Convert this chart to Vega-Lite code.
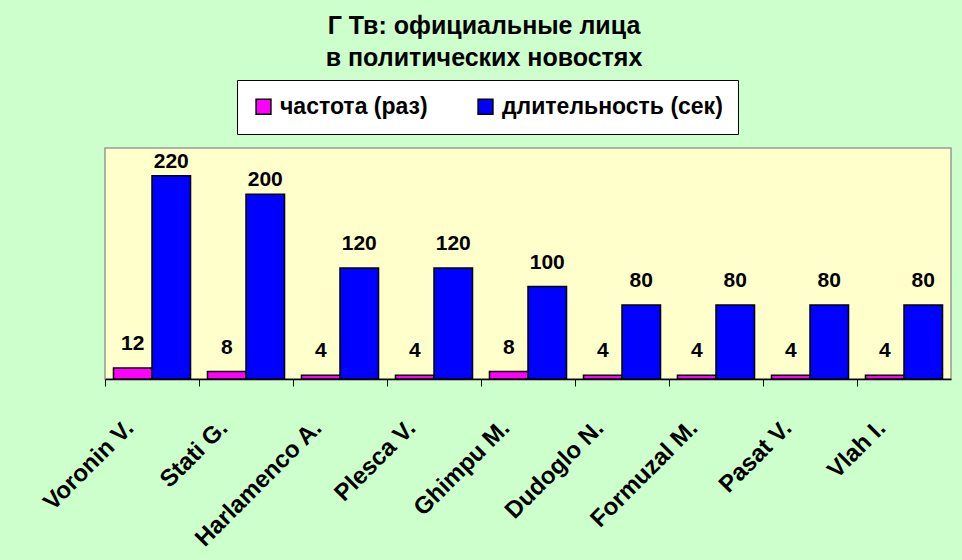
{
  "$schema": "https://vega.github.io/schema/vega-lite/v6.json",
  "width": 846,
  "height": 231,
  "autosize": {"type": "none"},
  "padding": {"left": 105, "top": 148, "right": 11, "bottom": 181},
  "background": "#CCFFCC",
  "title": {
    "text": ["Г Тв: официальные лица", "в политических новостях"],
    "font": "Liberation Sans",
    "fontSize": 25,
    "fontWeight": "bold",
    "color": "black",
    "lineHeight": 32,
    "anchor": "middle",
    "frame": "group",
    "dx": -44,
    "offset": 9
  },
  "data": {
    "values": [
      {"name": "Voronin V.", "series": "частота (раз)", "value": 12},
      {"name": "Voronin V.", "series": "длительность (сек)", "value": 220},
      {"name": "Stati G.", "series": "частота (раз)", "value": 8},
      {"name": "Stati G.", "series": "длительность (сек)", "value": 200},
      {"name": "Harlamenco A.", "series": "частота (раз)", "value": 4},
      {"name": "Harlamenco A.", "series": "длительность (сек)", "value": 120},
      {"name": "Plesca V.", "series": "частота (раз)", "value": 4},
      {"name": "Plesca V.", "series": "длительность (сек)", "value": 120},
      {"name": "Ghimpu M.", "series": "частота (раз)", "value": 8},
      {"name": "Ghimpu M.", "series": "длительность (сек)", "value": 100},
      {"name": "Dudoglo N.", "series": "частота (раз)", "value": 4},
      {"name": "Dudoglo N.", "series": "длительность (сек)", "value": 80},
      {"name": "Formuzal M.", "series": "частота (раз)", "value": 4},
      {"name": "Formuzal M.", "series": "длительность (сек)", "value": 80},
      {"name": "Pasat V.", "series": "частота (раз)", "value": 4},
      {"name": "Pasat V.", "series": "длительность (сек)", "value": 80},
      {"name": "Vlah I.", "series": "частота (раз)", "value": 4},
      {"name": "Vlah I.", "series": "длительность (сек)", "value": 80}
    ]
  },
  "encoding": {
    "x": {
      "field": "name",
      "type": "nominal",
      "sort": null,
      "title": null,
      "scale": {"paddingInner": 0, "paddingOuter": 0},
      "axis": {
        "bandPosition": 0,
        "labelAngle": -45,
        "labelAlign": "right",
        "labelBaseline": "middle",
        "labelOffset": -22,
        "labelPadding": 38,
        "labelFont": "Liberation Sans",
        "labelFontSize": 24,
        "labelFontWeight": "bold",
        "labelColor": "black",
        "labelLimit": 400,
        "labelOverlap": false,
        "domainColor": "black",
        "domainWidth": 1.5,
        "tickColor": "black",
        "tickWidth": 1,
        "tickSize": 7
      }
    },
    "xOffset": {
      "field": "series",
      "sort": ["частота (раз)", "длительность (сек)"],
      "scale": {"paddingInner": 0, "paddingOuter": 0.22}
    },
    "y": {
      "field": "value",
      "type": "quantitative",
      "scale": {"domain": [0, 250], "nice": false},
      "axis": null
    }
  },
  "layer": [
    {
      "mark": {"type": "bar", "stroke": "black", "strokeWidth": 1.5},
      "encoding": {
        "color": {
          "field": "series",
          "type": "nominal",
          "sort": ["частота (раз)", "длительность (сек)"],
          "scale": {"domain": ["частота (раз)", "длительность (сек)"], "range": ["#FF00FF", "#0000FF"]},
          "legend": {
            "title": null,
            "orient": "none",
            "legendX": 132,
            "legendY": -68,
            "direction": "horizontal",
            "fillColor": "white",
            "strokeColor": "black",
            "padding": 15,
            "symbolType": "square",
            "symbolSize": 220,
            "symbolStrokeColor": "black",
            "symbolStrokeWidth": 1.5,
            "labelFont": "Liberation Sans",
            "labelFontSize": 23,
            "labelFontWeight": "bold",
            "labelColor": "black",
            "labelOffset": 5,
            "labelLimit": 400,
            "columnPadding": 46
          }
        }
      }
    },
    {
      "mark": {
        "type": "text",
        "baseline": "alphabetic",
        "dy": {"expr": "datum.value >= 200 ? -8 : -18"},
        "font": "Liberation Sans",
        "fontSize": 21,
        "fontWeight": "bold",
        "color": "black"
      },
      "encoding": {"text": {"field": "value", "type": "quantitative"}}
    }
  ],
  "config": {
    "view": {"fill": "#FFFFCC", "stroke": "#999999", "strokeWidth": 1.5}
  }
}
